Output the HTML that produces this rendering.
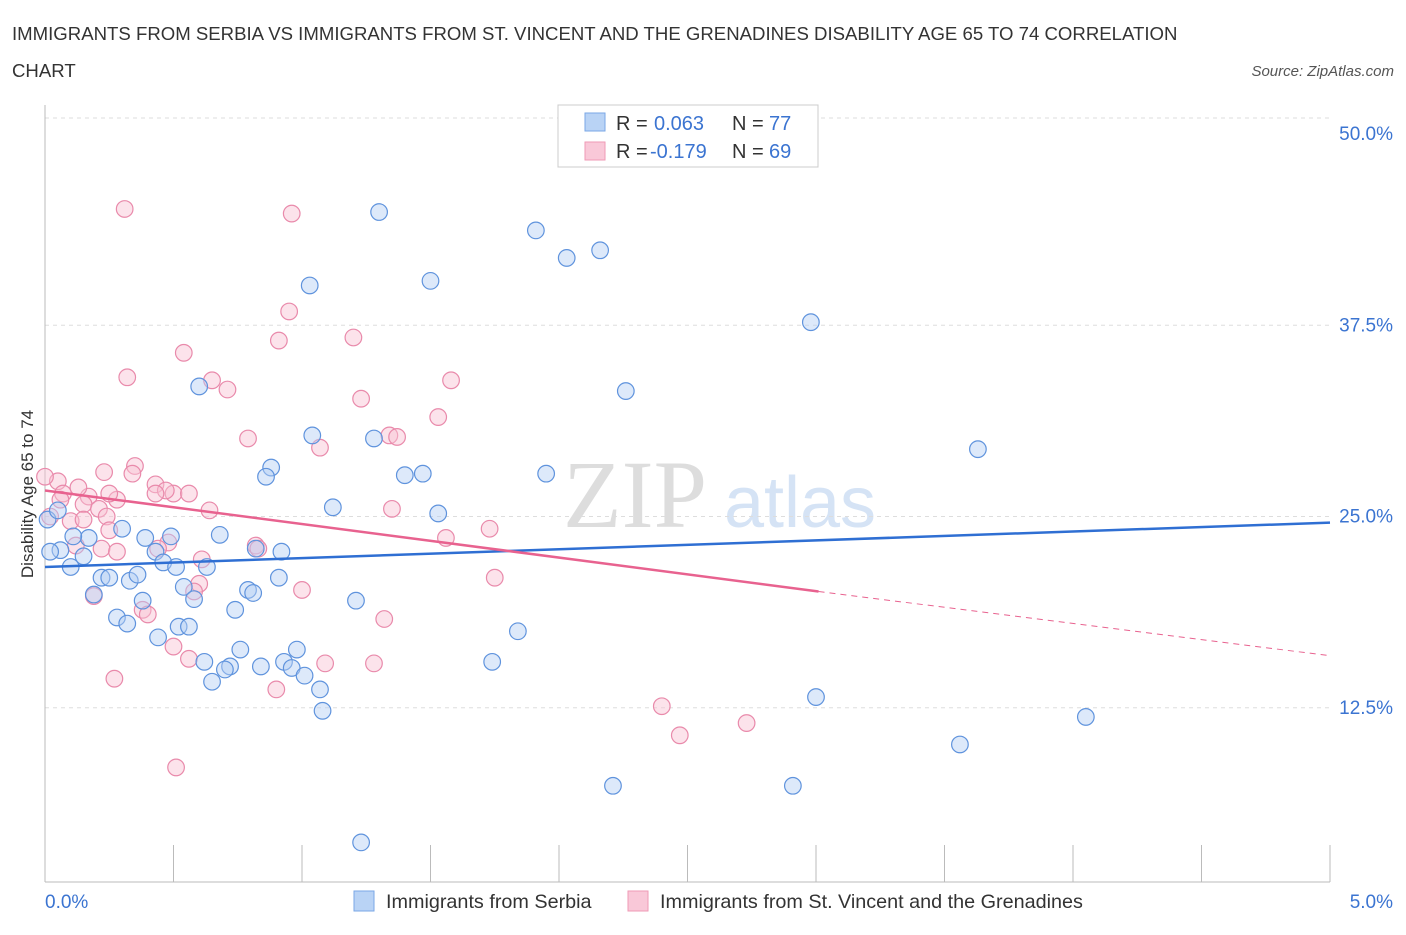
<!DOCTYPE html>
<html><head><meta charset="utf-8"><style>
body{margin:0;background:#fff;font-family:"Liberation Sans",sans-serif;}
</style></head><body>
<svg width="1406" height="930" viewBox="0 0 1406 930" xmlns="http://www.w3.org/2000/svg" font-family="Liberation Sans, sans-serif">
<text x="12" y="40" font-size="18.6" fill="#333">IMMIGRANTS FROM SERBIA VS IMMIGRANTS FROM ST. VINCENT AND THE GRENADINES DISABILITY AGE 65 TO 74 CORRELATION</text>
<text x="12" y="77" font-size="18.6" fill="#333">CHART</text>
<text x="1394" y="76" font-size="15" fill="#555" font-style="italic" text-anchor="end">Source: ZipAtlas.com</text>
<g><text x="635" y="527" font-size="96" fill="#ddd" text-anchor="middle" font-family="Liberation Serif, serif">ZIP</text><text x="800" y="527" font-size="72" fill="#d5e3f5" text-anchor="middle">atlas</text></g>
<g id="grid"></g>
<line x1="45" y1="105" x2="45" y2="882" stroke="#bbb"/>
<line x1="45" y1="882" x2="1330" y2="882" stroke="#bbb"/>
<g id="xticks"></g>
<g id="ylabels"></g>
<text x="45" y="908" font-size="19" fill="#3b74d1">0.0%</text>
<text x="1393" y="908" font-size="19" fill="#3b74d1" text-anchor="end">5.0%</text>
<text transform="translate(33,494) rotate(-90)" font-size="17" fill="#333" text-anchor="middle">Disability Age 65 to 74</text>
<g id="pink"></g>
<g id="blue"></g>
<g id="trends"></g>
<g>
<rect x="558" y="105" width="260" height="62" fill="#fff" stroke="#ccc"/>
<rect x="585" y="113" width="20" height="18" fill="#b9d3f5" stroke="#7aa7e6"/>
<rect x="585" y="142" width="20" height="18" fill="#f9c8d8" stroke="#ef9ab6"/>
<text y="130" font-size="20" fill="#333"><tspan x="616">R = </tspan><tspan x="654" fill="#3b74d1">0.063</tspan><tspan x="732">N = </tspan><tspan x="769" fill="#3b74d1">77</tspan></text>
<text y="158" font-size="20" fill="#333"><tspan x="616">R = </tspan><tspan x="650" fill="#3b74d1">-0.179</tspan><tspan x="732">N = </tspan><tspan x="769" fill="#3b74d1">69</tspan></text>
</g>
<g>
<rect x="354" y="891" width="20" height="20" fill="#b9d3f5" stroke="#7aa7e6"/>
<text x="386" y="908" font-size="19.8" fill="#333">Immigrants from Serbia</text>
<rect x="628" y="891" width="20" height="20" fill="#f9c8d8" stroke="#ef9ab6"/>
<text x="660" y="908" font-size="19.8" fill="#333">Immigrants from St. Vincent and the Grenadines</text>
</g>
</svg>
<script>
const yTicks=[12.5,25,37.5,50];
const yTickLabels=["12.5%","25.0%","37.5%","50.0%"];
const xTicks=[0,0.5,1,1.5,2,2.5,3,3.5,4,4.5,5];
const blueX=[1.30,1.91,2.03,2.16,1.50,1.03,2.98,0.60,2.26,1.04,1.28,3.63,0.88,0.86,1.47,1.40,1.95,1.12,1.53,0.30,0.17,0.39,0.49,0.68,0.11,0.06,0.15,0.43,0.10,0.46,0.51,0.63,0.82,0.92,0.22,0.25,0.33,0.36,0.91,0.54,0.79,0.81,0.58,0.38,1.21,0.19,0.74,0.28,0.32,0.52,0.56,0.44,1.84,0.76,0.98,0.62,0.72,0.84,0.93,0.96,1.01,1.74,0.70,0.65,1.07,3.00,1.08,4.05,3.56,2.21,2.91,1.23,0.02,0.01,0.05];
const blueY=[44.9,43.7,41.9,42.4,40.4,40.1,37.7,33.5,33.2,30.3,30.1,29.4,28.2,27.6,27.8,27.7,27.8,25.6,25.2,24.2,23.6,23.6,23.7,23.8,23.7,22.8,22.4,22.7,21.7,22.0,21.7,21.7,22.9,22.7,21.0,21.0,20.8,21.2,21.0,20.4,20.2,20.0,19.6,19.5,19.5,19.9,18.9,18.4,18.0,17.8,17.8,17.1,17.5,16.3,16.3,15.5,15.2,15.2,15.5,15.1,14.6,15.5,15.0,14.2,13.7,13.2,12.3,11.9,10.1,7.4,7.4,3.7,22.7,24.8,25.4];
const pinkX=[0.31,0.96,0.95,0.91,1.20,0.54,0.32,0.65,1.58,0.71,1.23,1.53,0.79,1.34,1.37,1.07,0.23,0.35,0.34,0.05,0.00,0.43,0.50,0.56,0.28,0.17,0.07,0.15,0.21,0.64,1.35,0.24,0.02,0.10,0.15,0.25,1.73,1.56,0.48,0.82,0.83,0.22,0.12,0.44,0.28,0.61,1.75,0.60,1.00,0.19,0.58,0.38,0.40,1.32,0.50,0.56,1.09,1.28,0.27,0.90,2.40,2.73,2.47,0.51,0.47,0.43,0.13,0.06,0.25];
const pinkY=[45.1,44.8,38.4,36.5,36.7,35.7,34.1,33.9,33.9,33.3,32.7,31.5,30.1,30.3,30.2,29.5,27.9,28.3,27.8,27.3,27.6,27.1,26.5,26.5,26.1,26.3,26.5,25.8,25.5,25.4,25.5,25.0,25.0,24.7,24.8,24.1,24.2,23.6,23.3,23.1,22.9,22.9,23.1,22.9,22.7,22.2,21.0,20.6,20.2,19.8,20.1,18.9,18.6,18.3,16.5,15.7,15.4,15.4,14.4,13.7,12.6,11.5,10.7,8.6,26.7,26.5,26.9,26.1,26.5];
const blueTrend=[21.7,24.6];
const pinkTrend=[26.7,20.1,15.9];
const pinkSolidEnd=3.01;
const NS="http://www.w3.org/2000/svg";
const X=v=>45+v/5*1285, Y=v=>899-v*15.3;
function mk(t,a,p){const e=document.createElementNS(NS,t);for(const k in a)e.setAttribute(k,a[k]);p.appendChild(e);return e;}
const grid=document.getElementById('grid');
mk('line',{x1:45,x2:1330,y1:118,y2:118,stroke:'#ddd','stroke-dasharray':'4 4'},grid);
yTicks.forEach((t,i)=>{
 if(t<50){const l=mk('line',{x1:45,x2:1330,y1:Y(t),y2:Y(t),stroke:'#ddd','stroke-dasharray':'4 4'},grid);
 
 }
 const tx=mk('text',{x:1393,y:Y(t)+6,'font-size':19,fill:'#3b74d1','text-anchor':'end'},document.getElementById('ylabels'));
 tx.textContent=yTickLabels[i];
 
 
});
xTicks.forEach(t=>{const l=mk('line',{x1:X(t),x2:X(t),y1:845,y2:882,stroke:'#bbb'},document.getElementById('xticks'));
 
 });
function pts(xs,ys,g,fill,stroke,name){xs.forEach((x,i)=>{const c=mk('circle',{cx:X(x),cy:Y(ys[i]),r:8.3,fill:fill,'fill-opacity':0.45,stroke:stroke,'stroke-width':1.2},g);
 
 });}
pts(pinkX,pinkY,document.getElementById('pink'),'#f9c0d3','#e98aab','point-st-vincent');
pts(blueX,blueY,document.getElementById('blue'),'#b3cff3','#5f93dd','point-serbia');
const tr=document.getElementById('trends');
let l1=mk('line',{x1:X(0),y1:Y(blueTrend[0]),x2:X(5),y2:Y(blueTrend[1]),stroke:'#2f6fd3','stroke-width':2.5},tr);


let l2=mk('line',{x1:X(0),y1:Y(pinkTrend[0]),x2:X(pinkSolidEnd),y2:Y(pinkTrend[1]),stroke:'#e8628f','stroke-width':2.5},tr);


let l3=mk('line',{x1:X(pinkSolidEnd),y1:Y(pinkTrend[1]),x2:X(5),y2:Y(pinkTrend[2]),stroke:'#e8628f','stroke-width':1,'stroke-dasharray':'6 5'},tr);


</script>
</body></html>
